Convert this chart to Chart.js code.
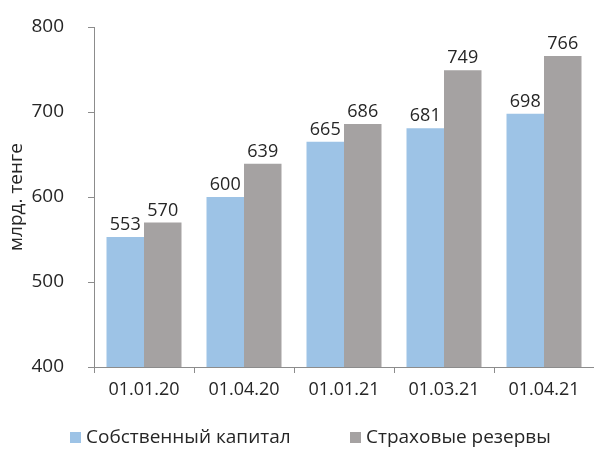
<!DOCTYPE html>
<html>
<head>
<meta charset="utf-8">
<script src="https://cdn.jsdelivr.net/npm/chart.js@4.4.1/dist/chart.umd.min.js"></script>
<style>
  html, body { margin: 0; padding: 0; background: #fff; }
  #wrap { width: 594px; height: 451px; position: relative; }
</style>
</head>
<body>
<div id="wrap"><canvas id="chart"></canvas></div>
<script>
// Данные
const dates = ['01.01.20', '01.04.20', '01.01.21', '01.03.21', '01.04.21'];
const equity = [553, 600, 665, 681, 698];
const reserves = [570, 639, 686, 749, 766];
const yTicks = [400, 500, 600, 700, 800];

const FONT = '"Open Sans", "DejaVu Sans", sans-serif';
const TEXT = '#262626';
const AXIS = '#8c8c8c';

// Подписи значений над столбцами
const valueLabels = {
    id: 'valueLabels',
    afterDatasetsDraw(chart) {
        const ctx = chart.ctx;
        ctx.save();
        ctx.font = '18px ' + FONT;
        ctx.fillStyle = TEXT;
        ctx.textAlign = 'center';
        ctx.textBaseline = 'bottom';
        chart.data.datasets.forEach((ds, i) => {
            chart.getDatasetMeta(i).data.forEach((bar, j) => {
                ctx.fillText(String(ds.data[j]), bar.x, bar.y - 3);
            });
        });
        ctx.restore();
    }
};

// Легенда внизу
const bottomLegend = {
    id: 'bottomLegend',
    afterDraw(chart) {
        const ctx = chart.ctx;
        const xs = [70, 350];
        const y = 438;
        ctx.save();
        ctx.font = '19px ' + FONT;
        ctx.textBaseline = 'middle';
        ctx.textAlign = 'left';
        chart.data.datasets.forEach((ds, i) => {
            ctx.fillStyle = ds.backgroundColor;
            ctx.fillRect(xs[i], y - 6, 11, 11);
            ctx.fillStyle = TEXT;
            ctx.fillText(ds.label, xs[i] + 16, y);
        });
        ctx.restore();
    }
};

new Chart(document.getElementById('chart').getContext('2d'), {
    type: 'bar',
    data: {
        labels: dates,
        datasets: [
            { label: 'Собственный капитал', data: equity, backgroundColor: '#9dc3e6' },
            { label: 'Страховые резервы', data: reserves, backgroundColor: '#a5a2a2' }
        ]
    },
    options: {
        responsive: true,
        maintainAspectRatio: false,
        animation: false,
        layout: { padding: { top: 27, right: 0, bottom: 39, left: 0 } },
        datasets: { bar: { categoryPercentage: 0.75, barPercentage: 1.0 } },
        plugins: {
            legend: { display: false },
            tooltip: { enabled: false }
        },
        scales: {
            x: {
                grid: { display: true, drawOnChartArea: false, offset: true, tickLength: 6, color: AXIS },
                border: { color: AXIS },
                ticks: { color: TEXT, font: { family: FONT, size: 18 }, padding: 6, maxRotation: 0 },
                afterFit(scale) { scale.height = 45; }
            },
            y: {
                min: 400,
                max: 800,
                afterBuildTicks(scale) { scale.ticks = yTicks.map(v => ({ value: v })); },
                grid: { display: true, drawOnChartArea: false, tickLength: 6, color: AXIS },
                border: { color: AXIS },
                ticks: { color: TEXT, font: { family: FONT, size: 19 }, padding: 24 },
                title: {
                    display: true,
                    text: 'млрд. тенге',
                    color: TEXT,
                    font: { family: FONT, size: 19 },
                    padding: { top: 5, bottom: 0 }
                },
                afterFit(scale) {
                    scale.width = 94;
                    // верх области графика задаётся только layout.padding
                    scale.paddingTop = 0;
                    scale.paddingBottom = 0;
                }
            }
        }
    },
    plugins: [valueLabels, bottomLegend]
});
</script>
</body>
</html>
